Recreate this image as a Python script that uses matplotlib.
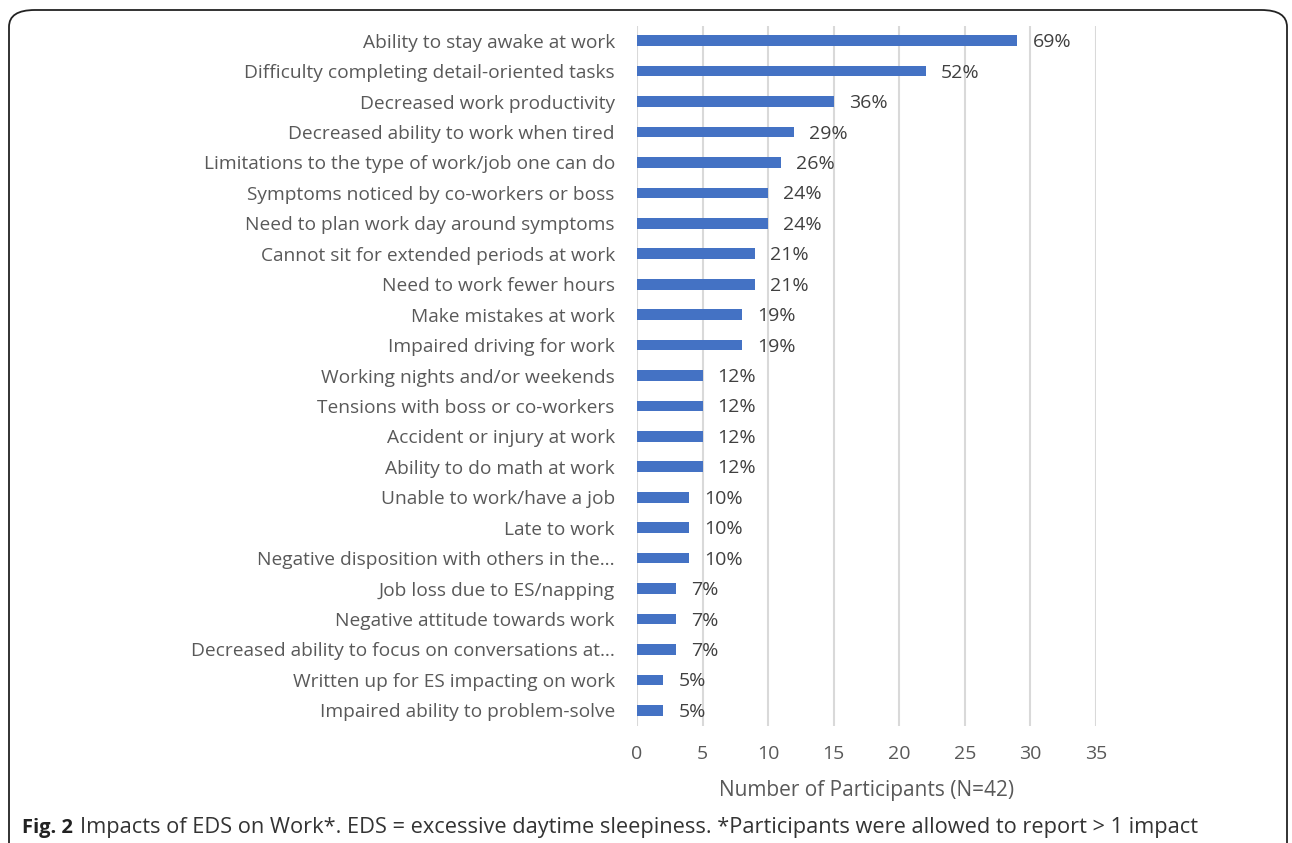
import matplotlib
matplotlib.use("Agg")
import matplotlib.pyplot as plt
from matplotlib.patches import FancyBboxPatch

categories = [
    "Ability to stay awake at work",
    "Difficulty completing detail-oriented tasks",
    "Decreased work productivity",
    "Decreased ability to work when tired",
    "Limitations to the type of work/job one can do",
    "Symptoms noticed by co-workers or boss",
    "Need to plan work day around symptoms",
    "Cannot sit for extended periods at work",
    "Need to work fewer hours",
    "Make mistakes at work",
    "Impaired driving for work",
    "Working nights and/or weekends",
    "Tensions with boss or co-workers",
    "Accident or injury at work",
    "Ability to do math at work",
    "Unable to work/have a job",
    "Late to work",
    "Negative disposition with others in the\u2026",
    "Job loss due to ES/napping",
    "Negative attitude towards work",
    "Decreased ability to focus on conversations at\u2026",
    "Written up for ES impacting on work",
    "Impaired ability to problem-solve",
]
counts = [29, 22, 15, 12, 11, 10, 10, 9, 9, 8, 8, 5, 5, 5, 5, 4, 4, 4, 3, 3, 3, 2, 2]
pct_labels = ["69%", "52%", "36%", "29%", "26%", "24%", "24%", "21%", "21%", "19%", "19%",
              "12%", "12%", "12%", "12%", "10%", "10%", "10%", "7%", "7%", "7%", "5%", "5%"]
xticks = [0, 5, 10, 15, 20, 25, 30, 35]

grey = "#595959"
plt.rcParams["font.family"] = ["Open Sans", "DejaVu Sans"]

fig = plt.figure(figsize=(12.92, 8.43), dpi=100)
ax = fig.add_axes([637 / 1292, 1 - 725.5 / 843, 459 / 1292, 700 / 843])

ypos = list(range(len(categories)))
ax.barh(ypos, counts, height=0.35, color="#4472C4", zorder=3)
for y, c, lab in zip(ypos, counts, pct_labels):
    ax.text(c + 1.15, y + 0.05, lab, va="center", ha="left", fontsize=14, color="#404040")

ax.set_ylim(len(categories) - 0.5, -0.5)
ax.set_xlim(0, 35)
ax.set_yticks(ypos)
ax.set_yticklabels(categories, fontsize=13.8, color=grey)
ax.set_xticks(xticks)
ax.set_xticklabels([str(t) for t in xticks], fontsize=14, color=grey)
ax.tick_params(axis="y", length=0, pad=16)
ax.tick_params(axis="x", length=0, pad=14)
ax.grid(axis="x", color="#d9d9d9", linewidth=1.5, zorder=0)
for s in ax.spines.values():
    s.set_visible(False)
ax.set_xlabel("Number of Participants (N=42)", fontsize=15, color=grey, labelpad=12)

box = FancyBboxPatch((9 / 1292, -0.05), 1278 / 1292, 1.05 - 10 / 843,
                     boxstyle="round,pad=0,rounding_size=0.02",
                     transform=fig.transFigure, fill=False, edgecolor="#222222",
                     linewidth=1.3, clip_on=False)
fig.patches.append(box)

fig.text(22 / 1292, 1 - 828 / 843, "Fig. 2", fontsize=14.5, fontweight="bold",
         color="#222222", va="center", ha="left")
fig.text(80 / 1292, 1 - 828 / 843,
         "Impacts of EDS on Work*. EDS = excessive daytime sleepiness. "
         "*Participants were allowed to report > 1 impact",
         fontsize=15.7, color="#333333", va="center", ha="left")

fig.savefig("out.png", dpi=100)
